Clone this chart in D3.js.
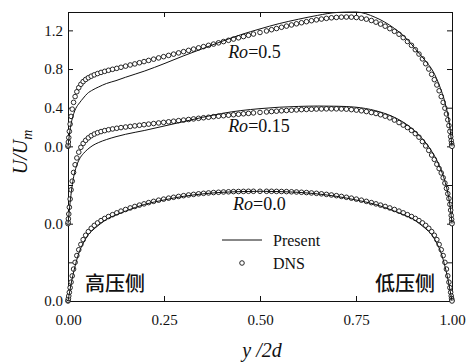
<!DOCTYPE html>
<html>
<head>
<meta charset="utf-8">
<script src="https://cdn.jsdelivr.net/npm/d3@7"></script>
<style>
  html, body { margin: 0; padding: 0; background: #fff; }
  svg { display: block; }
</style>
</head>
<body>
<div id="chart"></div>
<script>
// wall-normal positions of the DNS points (y/2d)
const xDNS = [0, 0.0003, 0.001, 0.002, 0.0035, 0.0055, 0.008, 0.011, 0.0145, 0.0185, 0.023, 0.028, 0.0335, 0.0395,
  0.046, 0.053, 0.0605, 0.0685, 0.077, 0.086, 0.0955, 0.1055, 0.116, 0.127, 0.138, 0.15, 0.162, 0.174, 0.186, 0.198,
  0.21, 0.223, 0.236, 0.249, 0.262, 0.275, 0.288, 0.301, 0.314, 0.327, 0.34, 0.353, 0.366, 0.379, 0.392, 0.405,
  0.418, 0.431, 0.444, 0.457, 0.47, 0.483, 0.5,
  0.517, 0.53, 0.543, 0.556, 0.569, 0.582, 0.595, 0.608, 0.621, 0.634, 0.647, 0.66, 0.673, 0.686, 0.699, 0.712,
  0.725, 0.738, 0.751, 0.764, 0.777, 0.79, 0.802, 0.814, 0.826, 0.838, 0.85, 0.862, 0.873, 0.884, 0.8945, 0.9045,
  0.914, 0.923, 0.9315, 0.9395, 0.947, 0.954, 0.9605, 0.9665, 0.972, 0.977, 0.9815, 0.9855, 0.989, 0.992, 0.9945,
  0.9965, 0.998, 0.999, 0.9997, 1];

// DNS U/Um, one array per rotation number
const dnsRo0 = [0, 0.008, 0.026, 0.052, 0.09, 0.138, 0.195, 0.26, 0.33, 0.4, 0.47, 0.53, 0.585, 0.635,
  0.68, 0.718, 0.752, 0.782, 0.808, 0.832, 0.854, 0.874, 0.893, 0.912, 0.93, 0.947, 0.963, 0.978, 0.992, 1.005,
  1.018, 1.031, 1.043, 1.054, 1.064, 1.073, 1.082, 1.09, 1.097, 1.103, 1.109, 1.114, 1.118, 1.122, 1.125, 1.128,
  1.13, 1.132, 1.133, 1.134, 1.135, 1.135, 1.135,
  1.135, 1.135, 1.134, 1.133, 1.132, 1.13, 1.128, 1.125, 1.122, 1.118, 1.114, 1.109, 1.103, 1.097, 1.09, 1.082,
  1.073, 1.064, 1.054, 1.043, 1.031, 1.018, 1.005, 0.992, 0.978, 0.963, 0.947, 0.93, 0.912, 0.893, 0.874, 0.854,
  0.832, 0.808, 0.782, 0.752, 0.718, 0.68, 0.635, 0.585, 0.53, 0.47, 0.4, 0.33, 0.26, 0.195, 0.138,
  0.09, 0.052, 0.026, 0.008, 0];

const dnsRo015 = [0, 0.015, 0.05, 0.1, 0.17, 0.255, 0.35, 0.44, 0.53, 0.61, 0.68, 0.74, 0.79, 0.83,
  0.862, 0.888, 0.91, 0.927, 0.941, 0.953, 0.963, 0.972, 0.98, 0.987, 0.994, 1.0, 1.006, 1.012, 1.018, 1.024,
  1.03, 1.036, 1.042, 1.048, 1.054, 1.06, 1.066, 1.072, 1.078, 1.084, 1.09, 1.096, 1.101, 1.107, 1.112, 1.117,
  1.122, 1.127, 1.132, 1.137, 1.141, 1.146, 1.151,
  1.156, 1.16, 1.164, 1.168, 1.171, 1.174, 1.177, 1.18, 1.182, 1.184, 1.186, 1.187, 1.188, 1.188, 1.188, 1.187,
  1.185, 1.18, 1.175, 1.168, 1.16, 1.15, 1.14, 1.127, 1.112, 1.095, 1.072, 1.046, 1.02, 0.995, 0.965, 0.932,
  0.895, 0.85, 0.805, 0.758, 0.71, 0.665, 0.615, 0.57, 0.525, 0.475, 0.42, 0.365, 0.31, 0.26, 0.2,
  0.14, 0.085, 0.045, 0.014, 0];

const dnsRo05 = [0, 0.013, 0.045, 0.09, 0.155, 0.23, 0.31, 0.385, 0.455, 0.515, 0.565, 0.607, 0.642, 0.67,
  0.692, 0.71, 0.726, 0.74, 0.753, 0.765, 0.776, 0.787, 0.797, 0.807, 0.818, 0.83, 0.842, 0.853, 0.865, 0.877,
  0.889, 0.902, 0.915, 0.928, 0.941, 0.954, 0.967, 0.98, 0.993, 1.006, 1.019, 1.032, 1.045, 1.058, 1.071, 1.084,
  1.097, 1.11, 1.123, 1.136, 1.149, 1.162, 1.178,
  1.194, 1.207, 1.219, 1.232, 1.244, 1.256, 1.268, 1.279, 1.29, 1.3, 1.309, 1.317, 1.324, 1.33, 1.334, 1.337,
  1.338, 1.337, 1.333, 1.326, 1.316, 1.302, 1.285, 1.265, 1.243, 1.218, 1.19, 1.16, 1.125, 1.085, 1.045, 1.0,
  0.955, 0.905, 0.855, 0.8, 0.745, 0.69, 0.635, 0.575, 0.515, 0.455, 0.395, 0.335, 0.275, 0.215, 0.155,
  0.1, 0.06, 0.03, 0.009, 0];

// model ("Present") curves
const xModel = [0, 0.002, 0.005, 0.01, 0.015, 0.02, 0.03, 0.04, 0.05, 0.065, 0.08, 0.1, 0.125, 0.15, 0.2, 0.25,
  0.3, 0.35, 0.4, 0.45, 0.5, 0.55, 0.6, 0.65, 0.7, 0.75, 0.8, 0.85, 0.875, 0.9, 0.92, 0.935, 0.95, 0.96, 0.97,
  0.98, 0.985, 0.99, 0.995, 0.998, 1];

const modelRo0 = [0, 0.045, 0.11, 0.215, 0.305, 0.385, 0.515, 0.6, 0.67, 0.735, 0.785, 0.845, 0.89, 0.93, 1.0,
  1.045, 1.082, 1.108, 1.124, 1.132, 1.135, 1.132, 1.124, 1.108, 1.082, 1.045, 1.0, 0.93, 0.89, 0.845, 0.785,
  0.735, 0.67, 0.6, 0.515, 0.385, 0.305, 0.215, 0.11, 0.045, 0];

const modelRo015 = [0, 0.08, 0.2, 0.37, 0.49, 0.57, 0.67, 0.725, 0.765, 0.81, 0.84, 0.87, 0.9, 0.925, 0.965,
  1.01, 1.055, 1.1, 1.14, 1.17, 1.19, 1.205, 1.213, 1.217, 1.215, 1.205, 1.17, 1.1, 1.045, 0.97, 0.89, 0.82,
  0.73, 0.66, 0.57, 0.46, 0.39, 0.3, 0.18, 0.08, 0];

const modelRo05 = [0, 0.07, 0.16, 0.27, 0.34, 0.39, 0.45, 0.5, 0.545, 0.585, 0.615, 0.65, 0.68, 0.715, 0.78,
  0.855, 0.935, 1.01, 1.085, 1.155, 1.215, 1.27, 1.315, 1.355, 1.385, 1.39, 1.335, 1.22, 1.14, 1.03, 0.935,
  0.865, 0.78, 0.7, 0.6, 0.48, 0.4, 0.31, 0.18, 0.075, 0];

// each profile is shifted up by a fixed amount
const rotations = ['0.0', '0.15', '0.5'];
const offsets = [0, 0.8, 1.6];

const xTicks = [0, 0.25, 0.5, 0.75, 1];
const xTickLabels = ['0.00', '0.25', '0.50', '0.75', '1.00'];
const yTicks = [0, 0.4, 0.8, 1.2, 1.6, 2.0, 2.4, 2.8];
const yTickLabels = ['0.0', '', '0.0', '', '0.0', '0.4', '0.8', '1.2'];

const W = 467, H = 363;
const margin = { left: 68, right: 15, top: 12, bottom: 62 };
const iw = W - margin.left - margin.right;
const ih = H - margin.top - margin.bottom;
const serif = '"Liberation Serif", "Times New Roman", Times, serif';
const cjk = '"Noto Sans CJK SC", "Noto Sans CJK JP", sans-serif';

const x = d3.scaleLinear().domain([0, 1]).range([0, iw]);
const y = d3.scaleLinear().domain([0, 2.99]).range([ih, 0]);

const svg = d3.select('#chart').append('svg')
  .attr('width', W).attr('height', H);

const g = svg.append('g')
  .attr('transform', `translate(${margin.left},${margin.top})`);

// frame + inward ticks on all four sides
const styleAxis = sel => {
  sel.attr('font-family', serif).attr('font-size', 15);
  sel.select('.domain').attr('stroke', '#111').attr('stroke-width', 1);
  sel.selectAll('.tick line').attr('stroke', '#111');
  sel.selectAll('text').attr('font-family', serif).attr('fill', '#111');
};

g.append('g').attr('transform', `translate(0,${ih})`)
  .call(d3.axisBottom(x).tickValues(xTicks).tickSizeInner(-5).tickSizeOuter(0).tickPadding(13)
    .tickFormat((d, i) => xTickLabels[i]))
  .call(styleAxis);
g.append('g')
  .call(d3.axisTop(x).tickValues(xTicks).tickSizeInner(-5).tickSizeOuter(0).tickFormat(''))
  .call(styleAxis);
g.append('g')
  .call(d3.axisLeft(y).tickValues(yTicks).tickSizeInner(-5).tickSizeOuter(0).tickPadding(5)
    .tickFormat((d, i) => yTickLabels[i]))
  .call(styleAxis);
g.append('g').attr('transform', `translate(${iw},0)`)
  .call(d3.axisRight(y).tickValues(yTicks).tickSizeInner(-5).tickSizeOuter(0).tickFormat(''))
  .call(styleAxis);

const dnsSets = [dnsRo0, dnsRo015, dnsRo05];
const modelSets = [modelRo0, modelRo015, modelRo05];

const line = d3.line().curve(d3.curveMonotoneX);

// DNS: open circles
dnsSets.forEach((vals, k) => {
  g.append('g').selectAll('circle')
    .data(vals)
    .join('circle')
    .attr('cx', (d, i) => x(xDNS[i]))
    .attr('cy', d => y(d + offsets[k]))
    .attr('r', 2.3)
    .attr('fill', '#fff')
    .attr('stroke', '#111')
    .attr('stroke-width', 0.9);
});

// Present: solid lines
modelSets.forEach((vals, k) => {
  g.append('path')
    .attr('d', line(vals.map((d, i) => [x(xModel[i]), y(d + offsets[k])])))
    .attr('fill', 'none')
    .attr('stroke', '#111')
    .attr('stroke-width', 1);
});

// Ro labels
const roLabelPos = [[0.43, 0.945], [0.417, 1.745], [0.417, 2.51]];
rotations.forEach((r, k) => {
  const t = g.append('text').attr('font-family', serif).attr('font-size', 18).attr('fill', '#111')
    .attr('x', x(roLabelPos[k][0])).attr('y', y(roLabelPos[k][1]));
  t.append('tspan').attr('font-style', 'italic').text('Ro');
  t.append('tspan').text('=' + r);
});

// legend
const lg = svg.append('g').attr('transform', 'translate(222,240)')
  .attr('font-family', serif).attr('font-size', 16).attr('fill', '#111');
lg.append('line').attr('x1', 0).attr('x2', 40).attr('y1', 0).attr('y2', 0)
  .attr('stroke', '#111').attr('stroke-width', 1);
lg.append('text').attr('x', 51).attr('y', 5.5).text('Present');
lg.append('circle').attr('cx', 20).attr('cy', 23).attr('r', 2.3)
  .attr('fill', '#fff').attr('stroke', '#111').attr('stroke-width', 0.9);
lg.append('text').attr('x', 51).attr('y', 28.5).text('DNS');

// wall side annotations
svg.append('text').attr('x', 85).attr('y', 291).attr('font-family', cjk).attr('font-size', 20)
  .attr('font-weight', 500).attr('fill', '#111').text('高压侧');
svg.append('text').attr('x', 375).attr('y', 291).attr('font-family', cjk).attr('font-size', 20)
  .attr('font-weight', 500).attr('fill', '#111').text('低压侧');

// axis titles
svg.append('text').attr('font-family', serif).attr('font-size', 20).attr('font-style', 'italic')
  .attr('fill', '#111').attr('text-anchor', 'middle').attr('x', 262).attr('y', 357)
  .text('y /2d');

const yt = svg.append('text').attr('font-family', serif).attr('font-size', 20).attr('font-style', 'italic')
  .attr('fill', '#111').attr('text-anchor', 'middle').attr('transform', 'translate(27,152) rotate(-90)');
yt.append('tspan').text('U/U');
yt.append('tspan').attr('font-size', 14).attr('dy', 5).text('m');
</script>
</body>
</html>
